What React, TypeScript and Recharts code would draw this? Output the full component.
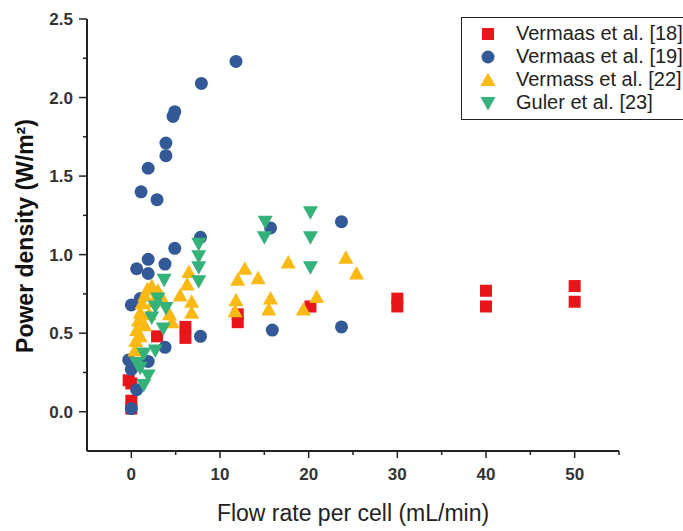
import React from "react";
import { ScatterChart, Scatter, XAxis, YAxis } from "recharts";

// tick values
const xTicks = [0, 5, 10, 15, 20, 25, 30, 35, 40, 45, 50, 55];
const xTickLabels = ["0", "10", "20", "30", "40", "50"];
const yTicks = [0, 0.25, 0.5, 0.75, 1, 1.25, 1.5, 1.75, 2, 2.25, 2.5];
const yTickLabels = ["0.0", "0.5", "1.0", "1.5", "2.0", "2.5"];

const seriesNames = [
  "Vermaas et al. [18]",
  "Vermaas et al. [19]",
  "Vermass et al. [22]",
  "Guler et al. [23]",
];
const seriesColors = ["#e8161b", "#335a96", "#fbb914", "#34b27a"];

// Vermaas et al. [18] (squares)
const vermaas18 = [
  { x: 0, y: 0.02 }, { x: 0, y: 0.07 }, { x: 0, y: 0.18 }, { x: -0.3, y: 0.2 },
  { x: 2.9, y: 0.48 }, { x: 6.1, y: 0.54 }, { x: 6.1, y: 0.47 },
  { x: 12, y: 0.62 }, { x: 12, y: 0.57 }, { x: 20.2, y: 0.67 },
  { x: 30, y: 0.72 }, { x: 30, y: 0.67 }, { x: 40, y: 0.77 }, { x: 40, y: 0.67 },
  { x: 50, y: 0.8 }, { x: 50, y: 0.7 },
];

// Vermaas et al. [19] (circles)
const vermaas19 = [
  { x: 11.8, y: 2.23 }, { x: 7.9, y: 2.09 }, { x: 4.9, y: 1.91 }, { x: 4.7, y: 1.88 },
  { x: 3.9, y: 1.71 }, { x: 3.9, y: 1.63 }, { x: 1.9, y: 1.55 }, { x: 1.1, y: 1.4 },
  { x: 2.9, y: 1.35 }, { x: 15.7, y: 1.17 }, { x: 23.7, y: 1.21 }, { x: 7.8, y: 1.11 },
  { x: 4.9, y: 1.04 }, { x: 1.9, y: 0.97 }, { x: 0.6, y: 0.91 }, { x: 1.9, y: 0.88 },
  { x: 3.8, y: 0.94 }, { x: 0, y: 0.68 }, { x: 1, y: 0.72 }, { x: 7.8, y: 0.48 },
  { x: 15.9, y: 0.52 }, { x: 23.7, y: 0.54 }, { x: 3.8, y: 0.41 }, { x: -0.3, y: 0.33 },
  { x: 0, y: 0.27 }, { x: 1.9, y: 0.32 }, { x: 0.6, y: 0.14 }, { x: 0, y: 0.02 },
];

// Vermass et al. [22] (up triangles)
const vermass22 = [
  { x: 17.7, y: 0.95 }, { x: 24.2, y: 0.98 }, { x: 25.4, y: 0.88 }, { x: 12.8, y: 0.91 },
  { x: 14.3, y: 0.85 }, { x: 12, y: 0.84 }, { x: 11.8, y: 0.71 }, { x: 11.7, y: 0.64 },
  { x: 15.7, y: 0.72 }, { x: 15.5, y: 0.65 }, { x: 20.9, y: 0.73 }, { x: 19.4, y: 0.65 },
  { x: 6.5, y: 0.89 }, { x: 6.3, y: 0.81 }, { x: 6.8, y: 0.7 }, { x: 6.8, y: 0.63 },
  { x: 0.5, y: 0.45 }, { x: 0.6, y: 0.52 }, { x: 0.8, y: 0.58 }, { x: 1, y: 0.63 },
  { x: 1.2, y: 0.69 }, { x: 1.5, y: 0.74 }, { x: 1.8, y: 0.78 }, { x: 2.3, y: 0.8 },
  { x: 3, y: 0.77 }, { x: 3.4, y: 0.73 }, { x: 0.4, y: 0.39 }, { x: 1.5, y: 0.55 },
  { x: 2, y: 0.62 }, { x: 2.5, y: 0.7 }, { x: 4.3, y: 0.62 }, { x: 4.6, y: 0.57 },
  { x: 5.5, y: 0.74 }, { x: 1, y: 0.48 },
];

// Guler et al. [23] (down triangles)
const guler23 = [
  { x: 15.1, y: 1.21 }, { x: 15, y: 1.11 }, { x: 20.2, y: 1.27 }, { x: 20.2, y: 1.11 },
  { x: 20.2, y: 0.92 }, { x: 7.6, y: 1.07 }, { x: 7.6, y: 0.99 }, { x: 7.6, y: 0.92 },
  { x: 7.6, y: 0.83 }, { x: 3.7, y: 0.84 }, { x: 2.7, y: 0.67 }, { x: 3.9, y: 0.66 },
  { x: 3, y: 0.72 }, { x: 2.3, y: 0.6 }, { x: 3.6, y: 0.53 }, { x: 1.4, y: 0.37 },
  { x: 2.7, y: 0.39 }, { x: 0.6, y: 0.31 }, { x: 1, y: 0.28 }, { x: 1.9, y: 0.23 },
  { x: 1.4, y: 0.17 },
];

const W = 683;
const H = 531;
const axisColor = "#222";
const font = "'Liberation Sans', Arial, sans-serif";

const Square = (p: any) => (
  <rect x={p.cx - 6} y={p.cy - 6} width={12} height={12} fill={seriesColors[0]} />
);
const Dot = (p: any) => <circle cx={p.cx} cy={p.cy} r={6.5} fill={seriesColors[1]} />;
const UpTri = (p: any) => (
  <polygon
    points={`${p.cx},${p.cy - 7.5} ${p.cx + 7.5},${p.cy + 6} ${p.cx - 7.5},${p.cy + 6}`}
    fill={seriesColors[2]}
  />
);
const DownTri = (p: any) => (
  <polygon
    points={`${p.cx - 7.5},${p.cy - 6} ${p.cx + 7.5},${p.cy - 6} ${p.cx},${p.cy + 7.5}`}
    fill={seriesColors[3]}
  />
);

const XTick = (props: any) => {
  const { x, y, payload } = props;
  const label = xTickLabels.find((t) => Number(t) === payload.value);
  return (
    <g>
      <line x1={x} x2={x} y1={y} y2={y + (label ? 7 : 4)} stroke={axisColor} strokeWidth={1.5} />
      {label && (
        <text x={x} y={y + 29} textAnchor="middle" fontFamily={font} fontWeight="bold" fontSize={17} fill="#333">
          {label}
        </text>
      )}
    </g>
  );
};

const YTick = (props: any) => {
  const { x, y, payload } = props;
  const label = yTickLabels.find((t) => Number(t) === payload.value);
  return (
    <g>
      <line x1={x} x2={x - (label ? 8 : 4)} y1={y} y2={y} stroke={axisColor} strokeWidth={1.5} />
      {label && (
        <text x={x - 14} y={y + 6} textAnchor="end" fontFamily={font} fontWeight="bold" fontSize={17} fill="#333">
          {label}
        </text>
      )}
    </g>
  );
};

const legendShapes = [
  <rect x={5} y={5} width={12} height={12} fill={seriesColors[0]} />,
  <circle cx={11} cy={11} r={6.5} fill={seriesColors[1]} />,
  <polygon points="11,3.5 18.5,17 3.5,17" fill={seriesColors[2]} />,
  <polygon points="3.5,5 18.5,5 11,18.5" fill={seriesColors[3]} />,
];

export default function App() {
  return (
    <div style={{ position: "absolute", left: 0, top: 0, width: W, height: H, overflow: "hidden", background: "#fff" }}>
      <ScatterChart width={W} height={H} margin={{ top: 19, right: 64, bottom: 0, left: 0 }}>
        <XAxis
          type="number"
          dataKey="x"
          domain={[-5, 55]}
          ticks={xTicks}
          interval={0}
          height={80}
          tickSize={0}
          tickMargin={0}
          tickLine={false}
          axisLine={{ stroke: axisColor, strokeWidth: 2 }}
          tick={<XTick />}
          allowDataOverflow
          label={{
            content: () => (
              <text x={353} y={521} textAnchor="middle" fontFamily={font} fontSize={23} fill="#222">
                Flow rate per cell (mL/min)
              </text>
            ),
          }}
        />
        <YAxis
          type="number"
          dataKey="y"
          domain={[-0.25, 2.5]}
          ticks={yTicks}
          interval={0}
          width={87}
          tickSize={0}
          tickMargin={0}
          tickLine={false}
          axisLine={{ stroke: axisColor, strokeWidth: 2 }}
          tick={<YTick />}
          allowDataOverflow
          label={{
            content: () => (
              <text
                x={0}
                y={0}
                transform="translate(33, 236) rotate(-90)"
                textAnchor="middle"
                fontFamily={font}
                fontWeight="bold"
                fontSize={23}
                fill="#111"
              >
                Power density (W/m²)
              </text>
            ),
          }}
        />
        <Scatter name={seriesNames[0]} data={vermaas18} shape={<Square />} isAnimationActive={false} />
        <Scatter name={seriesNames[1]} data={vermaas19} shape={<Dot />} isAnimationActive={false} />
        <Scatter name={seriesNames[2]} data={vermass22} shape={<UpTri />} isAnimationActive={false} />
        <Scatter name={seriesNames[3]} data={guler23} shape={<DownTri />} isAnimationActive={false} />
      </ScatterChart>
      <div
        style={{
          position: "absolute",
          left: 461,
          top: 17,
          width: 240,
          height: 103,
          boxSizing: "border-box",
          border: "1.5px solid #222",
          background: "#fff",
          paddingTop: 4,
          fontFamily: font,
          fontSize: 20,
          color: "#222",
        }}
      >
        {seriesNames.map((name, i) => (
          <div key={name} style={{ display: "flex", alignItems: "center", height: 23 }}>
            <svg width={22} height={22} style={{ marginLeft: 15, marginRight: 17 }}>
              {legendShapes[i]}
            </svg>
            <span style={{ whiteSpace: "nowrap" }}>{name}</span>
          </div>
        ))}
      </div>
    </div>
  );
}
